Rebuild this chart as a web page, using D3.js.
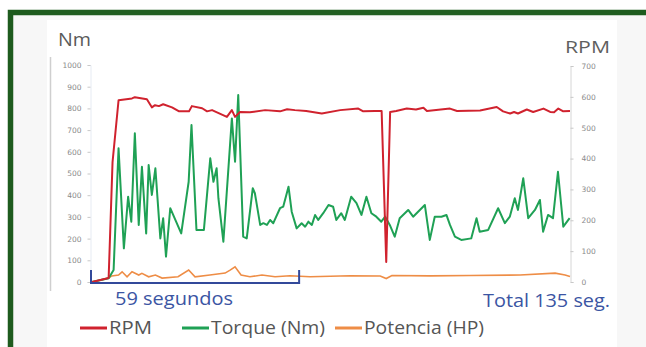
<!DOCTYPE html>
<html>
<head>
<meta charset="utf-8">
<script src="https://cdn.jsdelivr.net/npm/d3@7/dist/d3.min.js"></script>
<style>
  html, body { margin: 0; padding: 0; background: #fff; }
  svg { display: block; font-family: "Open Sans", "Noto Sans", sans-serif; }
</style>
</head>
<body>
<div id="chart"></div>
<script>
// time (s) / value pairs
const rpmT = [0, 4.7, 5.8, 7.5, 11.3, 12.1, 15.5, 16.9, 17.8, 18.9, 20.1, 22.6, 24.6, 27.4, 28.2, 31.1, 32.5, 33.9, 38.1, 39.5, 40.4, 41.8, 44.6, 48.9, 53.1, 55.1, 57.3, 60.5, 64.9, 70.1, 75.2, 76.6, 79.9, 81.8, 83.1, 84.2, 85.9, 88.9, 91.5, 93.6, 94.6, 101.1, 103.1, 109.6, 114.3, 116.1, 118.1, 119.2, 120.3, 122.8, 124.6, 127.5, 129.4, 130.5, 131.7, 133.1, 135];
const rpmV = [0, 13, 388, 589, 595, 599, 592, 566, 573, 570, 576, 566, 553, 553, 570, 563, 553, 557, 535, 557, 535, 551, 550, 557, 553, 560, 557, 554, 546, 557, 562, 553, 554, 554, 65, 551, 554, 562, 559, 565, 554, 562, 554, 556, 567, 553, 546, 551, 546, 559, 551, 562, 551, 550, 562, 553, 554];

const torqueT = [0, 4.7, 6.1, 7.5, 9.0, 10.2, 11.1, 12.1, 13.2, 14.1, 15.3, 16.0, 16.9, 17.9, 19.3, 20.1, 20.9, 22.1, 25.2, 27.3, 28.1, 29.5, 31.6, 33.4, 34.3, 35.2, 35.7, 37.1, 39.5, 40.4, 41.3, 42.7, 43.7, 45.4, 46.0, 47.5, 48.4, 49.4, 50.3, 51.2, 53.1, 54.0, 55.5, 56.4, 57.8, 59.2, 60.2, 61.1, 62.1, 63.0, 63.9, 65.3, 66.8, 68.1, 69.0, 70.4, 71.4, 73.2, 74.7, 76.1, 77.5, 78.9, 80.3, 81.7, 82.8, 84.1, 85.5, 86.9, 89.3, 90.7, 92.1, 94.0, 95.4, 96.8, 98.7, 100.1, 101.1, 102.5, 104.3, 107.1, 108.6, 109.5, 111.9, 114.7, 116.6, 118.0, 119.4, 120.3, 121.8, 123.2, 125.1, 126.5, 127.4, 128.8, 130.2, 131.6, 133.1, 134.9];
const torqueV = [0, 17, 55, 616, 155, 393, 278, 685, 263, 531, 224, 539, 401, 524, 201, 294, 117, 340, 224, 462, 723, 240, 240, 570, 462, 524, 386, 186, 754, 554, 862, 209, 201, 432, 409, 263, 271, 263, 286, 271, 340, 347, 439, 324, 247, 271, 255, 278, 263, 309, 286, 317, 355, 347, 286, 317, 286, 393, 363, 309, 393, 317, 301, 278, 301, 263, 209, 294, 332, 301, 324, 355, 194, 301, 301, 309, 263, 209, 194, 201, 294, 232, 240, 340, 271, 301, 386, 332, 478, 294, 332, 378, 232, 309, 294, 508, 255, 294];

const hpT = [0, 4.7, 5.6, 7.5, 8.5, 9.9, 11.3, 13.2, 14.1, 16.0, 17.9, 19.8, 24.3, 27.3, 29.1, 33.3, 37.6, 39.0, 40.4, 42.1, 44.6, 48.0, 51.7, 55.9, 61.6, 72.9, 81.4, 83.1, 84.7, 95.5, 106.8, 120.9, 130.8, 133.6, 135];
const hpV = [0, 18, 28, 32, 47, 24, 47, 32, 40, 24, 32, 18, 24, 55, 24, 32, 41, 55, 70, 32, 24, 32, 24, 29, 24, 29, 28, 16, 30, 28, 30, 32, 41, 32, 25];

const leftTicks = [0, 100, 200, 300, 400, 500, 600, 700, 800, 900, 1000];
const rightTicks = [0, 100, 200, 300, 400, 500, 600, 700];
const bracketSpan = [0, 58.5];
const legendNames = ["RPM", "Torque (Nm)", "Potencia (HP)"];
const colors = ["#d0222e", "#1fa155", "#ee8d46"];

const W = 646, H = 347;
const svg = d3.select("#chart").append("svg").attr("width", W).attr("height", H);

// frame
svg.append("rect").attr("x", 0).attr("y", 0).attr("width", W).attr("height", H).attr("fill", "#fff");
svg.append("rect").attr("x", 13).attr("y", 15).attr("width", W).attr("height", H).attr("fill", "#f7f7f7");
svg.append("rect").attr("x", 47).attr("y", 20).attr("width", 570).attr("height", H).attr("fill", "#fff");
svg.append("path").attr("d", `M10.5,${H} V12.5 H${W}`).attr("fill", "none")
  .attr("stroke", "#1e5b1e").attr("stroke-width", 5.5);

const x = d3.scaleLinear().domain([0, 135]).range([92, 570]);
const yL = d3.scaleLinear().domain([0, 1000]).range([282, 65]);
const yR = d3.scaleLinear().domain([0, 700]).range([282, 66]);

// faint outer rule at left
svg.append("line").attr("x1", 50.5).attr("x2", 50.5).attr("y1", 57).attr("y2", 291)
  .attr("stroke", "#cfcfcf").attr("stroke-width", 1.5);

const gl = svg.append("g").attr("transform", "translate(90.5,0)")
  .call(d3.axisLeft(yL).tickValues(leftTicks).tickFormat(d3.format("d")).tickSize(3).tickPadding(6));
const gr = svg.append("g").attr("transform", "translate(570.5,0)")
  .call(d3.axisRight(yR).tickValues(rightTicks).tickFormat(d3.format("d")).tickSize(3).tickPadding(8));
[gl, gr].forEach(g => {
  g.select(".domain").attr("stroke", "#d6d6d6");
  g.selectAll(".tick line").attr("stroke", "#c8c8c8");
  g.selectAll(".tick text").attr("fill", "#8a8a8a").style("font-size", "7.5px")
    .style("font-family", "'DejaVu Sans', sans-serif");
});
gl.select(".domain").attr("stroke", "#e6ebf3");

const label = (tx, ty, s, len, size, fill) =>
  svg.append("text").attr("x", tx).attr("y", ty).text(s)
    .attr("textLength", len).attr("lengthAdjust", "spacingAndGlyphs")
    .attr("fill", fill).style("font-size", size + "px");

label(58, 46, "Nm", 33, 18, "#5a5a5a");
label(565, 53, "RPM", 45, 17, "#5f5f5f");

const pts = (ts, vs) => ts.map((t, i) => [t, vs[i]]);
const lineL = d3.line().x(d => x(d[0])).y(d => yL(d[1]));
const lineR = d3.line().x(d => x(d[0])).y(d => yR(d[1]));

svg.append("path").datum(pts(hpT, hpV)).attr("d", lineL)
  .attr("fill", "none").attr("stroke", colors[2]).attr("stroke-width", 1.6);
svg.append("path").datum(pts(torqueT, torqueV)).attr("d", lineL)
  .attr("fill", "none").attr("stroke", colors[1]).attr("stroke-width", 2).attr("stroke-linejoin", "round");
svg.append("path").datum(pts(rpmT, rpmV)).attr("d", lineR)
  .attr("fill", "none").attr("stroke", colors[0]).attr("stroke-width", 2).attr("stroke-linejoin", "round");

// 59 s bracket
const bx0 = x(bracketSpan[0]) - 1, bx1 = x(bracketSpan[1]);
svg.append("path").attr("d", `M${bx0},270 V283 H${bx1} V270`)
  .attr("fill", "none").attr("stroke", "#33499a").attr("stroke-width", 2);
label(115, 305, "59 segundos", 118, 18, "#3b55a3");
label(483, 307, "Total 135 seg.", 127, 18, "#3b55a3");

// legend
const legX = [80, 182, 335];
const legLen = [43, 114, 120];
legendNames.forEach((n, i) => {
  svg.append("line").attr("x1", legX[i]).attr("x2", legX[i] + 27).attr("y1", 328).attr("y2", 328)
    .attr("stroke", colors[i]).attr("stroke-width", 3);
  label(legX[i] + 29, 334, n, legLen[i], 18, "#555");
});
</script>
</body>
</html>
